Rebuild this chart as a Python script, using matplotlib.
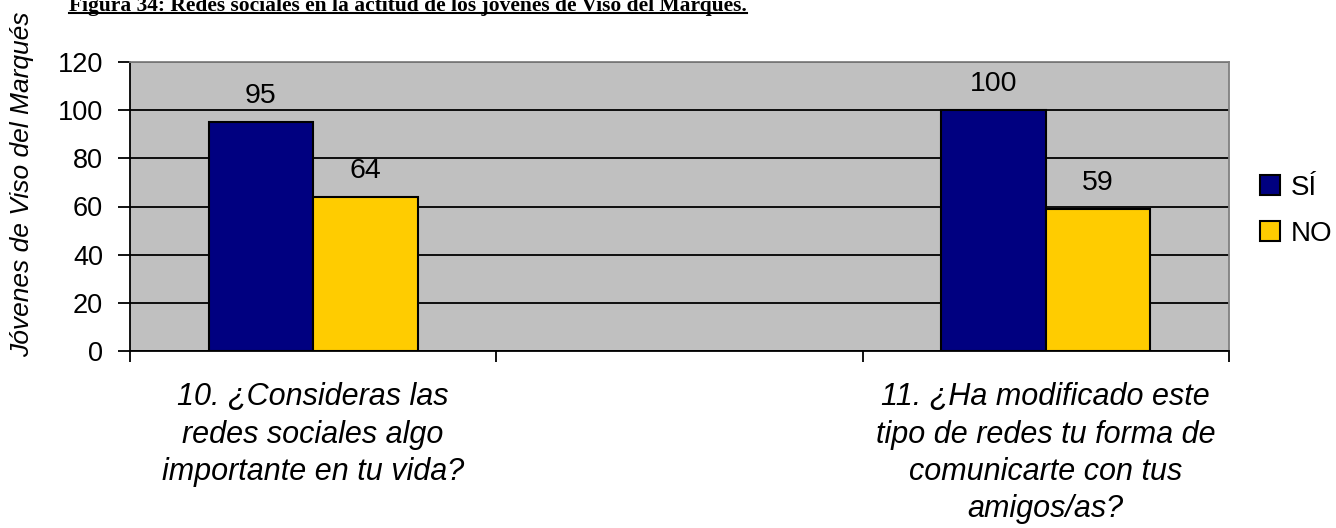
import matplotlib
matplotlib.use("Agg")
import matplotlib.pyplot as plt
import numpy as np

categories = ["10. ¿Consideras las\nredes sociales algo\nimportante en tu vida?",
              "",
              "11. ¿Ha modificado este\ntipo de redes tu forma de\ncomunicarte con tus\namigos/as?"]
si_values = [95, None, 100]
no_values = [64, None, 59]
series_names = ["SÍ", "NO"]
yticks = [0, 20, 40, 60, 80, 100, 120]
title = "Figura 34: Redes sociales en la actitud de los jóvenes de Viso del Marqués."
ylabel = "Jóvenes de Viso del Marqués"

plt.rcParams['font.family'] = ['Liberation Sans', 'DejaVu Sans']

fig = plt.figure(figsize=(13.36, 5.28), dpi=100)
ax = fig.add_axes([130/1336, 1-351/528, (1229-130)/1336, (351-62)/528])
ax.set_facecolor('#C0C0C0')

x = np.arange(len(categories))
w = 0.285
colors = ['#000080', '#FFCC00']
for i, (vals, col, name) in enumerate(zip([si_values, no_values], colors, series_names)):
    xs = [xi + (i - 0.5) * w for xi, v in zip(x, vals) if v is not None]
    vs = [v for v in vals if v is not None]
    bars = ax.bar(xs, vs, width=w, color=col, edgecolor='black', linewidth=1.5,
                  label=name, zorder=3)
    for b, v in zip(bars, vs):
        ax.annotate(str(v), (b.get_x() + b.get_width()/2, v), xytext=(0, 13.5),
                    textcoords='offset points', ha='center', va='baseline', fontsize=20.5)

ax.set_xlim(-0.5, len(categories) - 0.5)
ax.set_ylim(0, 120)
ax.set_yticks(yticks)
ax.set_yticklabels([str(t) for t in yticks], fontsize=19.5)
ax.yaxis.grid(True, color='black', linewidth=1.3, zorder=1)
ax.set_axisbelow(True)
ax.tick_params(axis='y', length=8.5, width=1.3, pad=11)

ax.set_xticks(np.arange(-0.5, len(categories)))
ax.set_xticklabels([])
ax.tick_params(axis='x', length=8, width=1.3)
for xi, lab in zip(x, categories):
    ax.text(xi, -0.108, lab, transform=ax.get_xaxis_transform(), ha='center', va='top',
            fontsize=22, style='italic', linespacing=1.32)

for s in ['top', 'right']:
    ax.spines[s].set_color('#808080')
    ax.spines[s].set_linewidth(1.3)
for s in ['left', 'bottom']:
    ax.spines[s].set_color('black')
    ax.spines[s].set_linewidth(1.3)

fig.text(22/1336, 1-184/528, ylabel, rotation=90, ha='center', va='center',
         fontsize=19, style='italic')

leg = fig.legend(loc='center left', bbox_to_anchor=(1246/1336, 1-211/528), frameon=False,
                 fontsize=20, handlelength=0.72, handleheight=0.72, handletextpad=0.4,
                 labelspacing=0.72, borderpad=0)

t = fig.text(408/1336, 1-11/528, title, ha='center', va='baseline', fontsize=15.5,
             fontweight='bold', family='Liberation Serif')
fig.canvas.draw()
bb = t.get_window_extent()
fig.add_artist(plt.Line2D([bb.x0/1336, bb.x1/1336], [(528-13)/528]*2,
                          color='black', linewidth=1.5, transform=fig.transFigure))

fig.savefig('out.png', dpi=100)
